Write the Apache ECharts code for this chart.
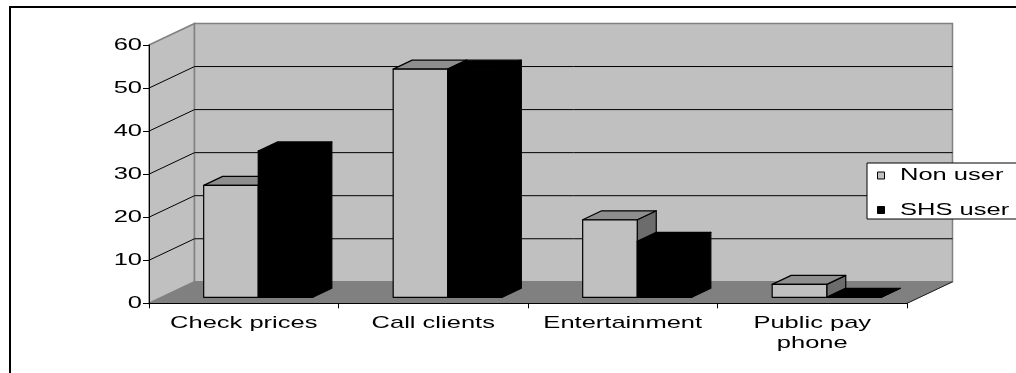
<!DOCTYPE html>
<html>
<head>
<meta charset="utf-8">
<script src="https://cdn.jsdelivr.net/npm/echarts@6/dist/echarts.min.js"></script>
<style>
  html, body { margin: 0; padding: 0; background: #ffffff; }
  #chart { width: 1016px; height: 373px; }
</style>
</head>
<body>
<div id="chart"></div>
<script>
// Data
const categories = ['Check prices', 'Call clients', 'Entertainment', 'Public pay\nphone'];
const seriesNames = ['Non user', 'SHS user'];
const nonUser = [26, 53, 18, 3];
const shsUser = [34, 53, 13, 0];
const yTicks = [0, 10, 20, 30, 40, 50, 60];

// Pseudo-3D geometry (pixels)
const DEPTH = [45.5, -21.5];      // full depth of the floor / side wall
const BAR_SHIFT = [14.5, -6];     // front face of the bars sits a little behind the axis plane
const BAR_DEPTH = [19, -9];       // depth of each bar
const BAR_FRAC = 0.288;           // bar width as a share of the category band
const FONT = '17px "Liberation Sans", Arial, sans-serif';
const TEXT_STRETCH = 1.5;

const WALL = '#c0c0c0';
const FLOOR = '#808080';
const EDGE = '#808080';

const chart = echarts.init(document.getElementById('chart'));

function txt(x, y, text, align, vAlign) {
  return {
    type: 'text',
    x: x, y: y,
    scaleX: TEXT_STRETCH,
    style: {
      text: text, font: FONT, fill: '#000',
      align: align, verticalAlign: vAlign, lineHeight: 20
    },
    z2: 50
  };
}

// Walls, floor, gridlines and axis labels
function renderFrame(params, api) {
  const cs = params.coordSys;
  const x0 = cs.x, x1 = cs.x + cs.width;
  const yBase = api.coord([0, 0])[1];
  const yTop = api.coord([0, yTicks[yTicks.length - 1]])[1];
  const dx = DEPTH[0], dy = DEPTH[1];
  const kids = [];

  // floor
  kids.push({ type: 'polygon', shape: { points: [[x0, yBase], [x1, yBase], [x1 + dx, yBase + dy], [x0 + dx, yBase + dy]] },
    style: { fill: FLOOR, stroke: EDGE, lineWidth: 1 } });
  // side wall
  kids.push({ type: 'polygon', shape: { points: [[x0, yTop], [x0 + dx, yTop + dy], [x0 + dx, yBase + dy], [x0, yBase]] },
    style: { fill: WALL, stroke: EDGE, lineWidth: 1.5 } });
  // back wall
  kids.push({ type: 'rect', shape: { x: x0 + dx, y: yTop + dy, width: x1 - x0, height: yBase - yTop },
    style: { fill: WALL, stroke: EDGE, lineWidth: 1.5 } });

  // gridlines on the back wall and the side wall
  yTicks.forEach(function (v) {
    if (v === 0 || v === yTicks[yTicks.length - 1]) return;
    const y = api.coord([0, v])[1];
    kids.push({ type: 'line', shape: { x1: x0, y1: y, x2: x0 + dx, y2: y + dy }, style: { stroke: '#000', lineWidth: 1 } });
    kids.push({ type: 'line', shape: { x1: x0 + dx, y1: y + dy, x2: x1 + dx, y2: y + dy }, style: { stroke: '#000', lineWidth: 1 } });
  });

  // right edge of the floor
  kids.push({ type: 'line', shape: { x1: x1, y1: yBase, x2: x1 + dx, y2: yBase + dy }, style: { stroke: '#222', lineWidth: 1 } });

  // value axis labels
  yTicks.forEach(function (v) {
    const y = api.coord([0, v])[1];
    kids.push(txt(x0 - 7, y, String(v), 'right', 'middle'));
  });
  // category labels
  categories.forEach(function (c, i) {
    const p = api.coord([i, 0]);
    kids.push(txt(p[0], p[1] + 10, c, 'center', 'top'));
  });

  return { type: 'group', children: kids };
}

function barRenderer(slot, front, top, side) {
  return function (params, api) {
    const ci = api.value(0), v = api.value(1);
    const base = api.coord([ci, 0]);
    const tip = api.coord([ci, v]);
    const w = api.size([1, 0])[0] * BAR_FRAC;
    const xL = base[0] - w + slot * w + BAR_SHIFT[0];
    const xR = xL + w;
    const yB = base[1] + BAR_SHIFT[1];
    const yT = tip[1] + BAR_SHIFT[1];
    const bx = BAR_DEPTH[0], by = BAR_DEPTH[1];
    const edge = { stroke: '#000', lineWidth: 1.2, lineJoin: 'round' };
    return {
      type: 'group',
      children: [
        { type: 'polygon', shape: { points: [[xR, yT], [xR + bx, yT + by], [xR + bx, yB + by], [xR, yB]] },
          style: Object.assign({ fill: side }, edge) },
        { type: 'polygon', shape: { points: [[xL, yT], [xL + bx, yT + by], [xR + bx, yT + by], [xR, yT]] },
          style: Object.assign({ fill: top }, edge) },
        { type: 'rect', shape: { x: xL, y: yT, width: w, height: yB - yT },
          style: Object.assign({ fill: front }, edge) }
      ]
    };
  };
}

// Legend, drawn as a small framed box at the right (every element carries its own z)
const LEGEND_X = 867, LEGEND_Y = 163;
const legendRows = [{ dy: 12.5, fill: '#c0c0c0' }, { dy: 47, fill: '#000' }];
const legendChildren = [
  { type: 'rect', z: 100, shape: { x: 0, y: 0, width: 160, height: 56 },
    style: { fill: '#fff', stroke: '#000', lineWidth: 1 } }
];
legendRows.forEach(function (r, i) {
  legendChildren.push({ type: 'rect', z: 101, shape: { x: 10.5, y: r.dy - 3.5, width: 7, height: 7 },
    style: { fill: r.fill, stroke: '#000', lineWidth: 1 } });
  legendChildren.push({ type: 'text', z: 101, x: 33, y: r.dy, scaleX: TEXT_STRETCH,
    style: { text: seriesNames[i], font: FONT, fill: '#000', align: 'left', verticalAlign: 'middle' } });
});

const option = {
  animation: false,
  backgroundColor: '#ffffff',
  grid: { left: 149, top: 45, width: 758, height: 258.3, containLabel: false },
  xAxis: {
    type: 'category',
    data: categories,
    z: 10,
    axisLine: { show: true, lineStyle: { color: '#000', width: 1 } },
    axisTick: { show: true, length: 5, lineStyle: { color: '#000' } },
    axisLabel: { show: false },
    splitLine: { show: false }
  },
  yAxis: {
    type: 'value',
    min: 0, max: 60, interval: 10,
    z: 10,
    axisLine: { show: true, lineStyle: { color: '#000', width: 1 } },
    axisTick: { show: true, length: 6, lineStyle: { color: '#000' } },
    axisLabel: { show: false },
    splitLine: { show: false }
  },
  graphic: [
    { type: 'rect', x: 10, y: 7, z: 100,
      shape: { x: 0, y: 0, width: 1030, height: 400 },
      style: { fill: 'transparent', stroke: '#000', lineWidth: 2 } },
    { type: 'group', x: LEGEND_X, y: LEGEND_Y, z: 100, children: legendChildren }
  ],
  series: [
    { type: 'custom', name: 'frame', z: 1, clip: false, silent: true,
      renderItem: renderFrame, data: [[0, 0]] },
    { type: 'custom', name: seriesNames[0], z: 3, clip: false,
      renderItem: barRenderer(0, '#c0c0c0', '#8e8e8e', '#6c6c6c'),
      data: nonUser.map(function (v, i) { return [i, v]; }) },
    { type: 'custom', name: seriesNames[1], z: 3, clip: false,
      renderItem: barRenderer(1, '#000', '#000', '#000'),
      data: shsUser.map(function (v, i) { return [i, v]; }) }
  ]
};

chart.setOption(option);
</script>
</body>
</html>
